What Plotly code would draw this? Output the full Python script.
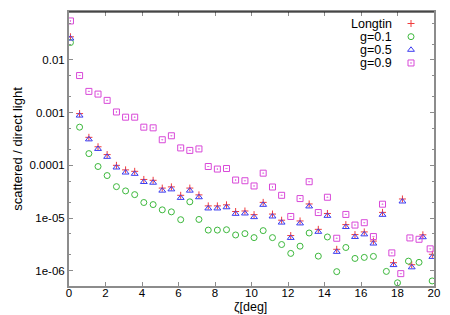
import plotly.graph_objects as go

# ---------------- data ----------------
series_names = ["Longtin", "g=0.1", "g=0.5", "g=0.9"]

x_common = [0.08, 0.58, 1.09, 1.59, 2.09, 2.60, 3.10, 3.60, 4.10, 4.61,
            5.11, 5.61, 6.12, 6.62, 7.12, 7.63, 8.13, 8.63, 9.13, 9.64,
            10.14, 10.64, 11.15, 11.65, 12.15, 12.66, 13.16, 13.66, 14.16, 14.67,
            15.17, 15.67, 16.18, 16.68]

x_tail_g05 = [17.18, 17.78, 18.27, 18.78, 19.39, 19.91]
x_tail_g01 = [17.39, 18.00, 18.60, 19.18, 19.90]
x_tail_g09 = [17.18, 17.69, 18.18, 18.68, 19.18, 19.79]

y_longtin = [0.0275, 9.6e-4, 3.4e-4, 2.25e-4, 1.6e-4, 1.0e-4, 8.2e-5, 7.7e-5, 5.4e-5, 5.2e-5,
             3.7e-5, 3.9e-5, 2.7e-5, 3.7e-5, 2.75e-5, 1.7e-5, 1.7e-5, 1.78e-5, 1.33e-5, 1.36e-5,
             1.16e-5, 1.98e-5, 1.19e-5, 9.1e-6, 4.65e-6, 8.8e-6, 1.85e-5, 6.1e-6, 1.22e-5, 2.55e-6,
             7.5e-6, 4.85e-6, 5.45e-6, 3.65e-6,
             1.28e-5, 1.42e-6, 2.3e-5, 1.3e-6, 4.8e-6, 2.05e-6]

y_g01 = [0.0214, 5.3e-4, 1.67e-4, 9.5e-5, 6.4e-5, 3.94e-5, 3.27e-5, 2.78e-5, 1.97e-5, 1.8e-5,
         1.43e-5, 1.31e-5, 9.3e-6, 2.03e-5, 9.4e-6, 5.9e-6, 5.9e-6, 6.0e-6, 4.77e-6, 5.06e-6,
         4.25e-6, 5.77e-6, 4.25e-6, 3.14e-6, 2.13e-6, 2.92e-6, 5.2e-6, 1.89e-6, 4.37e-6, 9.6e-7,
         2.76e-6, 1.71e-6, 1.79e-6, 1.87e-6,
         9.7e-7, 5.9e-7, 1.52e-6, 1.44e-6, 6.4e-7]

y_g05 = [0.0255, 8.8e-4, 3.11e-4, 2.05e-4, 1.45e-4, 9.1e-5, 7.3e-5, 6.9e-5, 4.83e-5, 4.68e-5,
         3.31e-5, 3.5e-5, 2.41e-5, 3.31e-5, 2.48e-5, 1.52e-5, 1.52e-5, 1.6e-5, 1.2e-5, 1.22e-5,
         1.04e-5, 1.78e-5, 1.07e-5, 8.2e-6, 4.19e-6, 7.9e-6, 1.66e-5, 5.47e-6, 1.1e-5, 2.28e-6,
         6.75e-6, 4.37e-6, 4.9e-6, 3.28e-6,
         1.15e-5, 1.28e-6, 2.06e-5, 1.16e-6, 4.32e-6, 1.83e-6]

y_g09 = [0.055, 5.06e-3, 2.53e-3, 2.25e-3, 1.71e-3, 1.03e-3, 8.2e-4, 8.2e-4, 5.3e-4, 5.15e-4,
         3.06e-4, 3.64e-4, 2.14e-4, 1.92e-4, 2.05e-4, 9.5e-5, 8.5e-5, 8.7e-5, 5.26e-5, 5.1e-5,
         4.06e-5, 7.1e-5, 3.88e-5, 2.7e-5, 1.07e-5, 2.34e-5, 4.89e-5, 1.27e-5, 2.48e-5, 4.13e-6,
         1.17e-5, 7.35e-6, 8.15e-6, 4.45e-6,
         1.83e-5, 2.18e-6, 8.8e-7, 4.19e-6, 3.95e-6, 2.6e-6]

x_ticks = [0, 2, 4, 6, 8, 10, 12, 14, 16, 18, 20]
y_tickvals = [1e-6, 1e-5, 1e-4, 1e-3, 1e-2]
y_ticktext = ["1e-06", "1e-05", "0.0001", "0.001", "0.01"]
x_title = "ζ[deg]"
y_title = "scattered / direct light"

# ---------------- styles ----------------
colors = ["#f03c3c", "#3cb83c", "#3c3cf0", "#d848d8"]
symbols = ["cross-thin", "circle-open", "triangle-up-open", "square-open-dot"]
sizes = [5, 6, 6, 6]

xs = [x_common + x_tail_g05, x_common + x_tail_g01, x_common + x_tail_g05, x_common + x_tail_g09]
ys = [y_longtin, y_g01, y_g05, y_g09]

fig = go.Figure()
for name, xv, yv, c, s, sz in zip(series_names, xs, ys, colors, symbols, sizes):
    fig.add_trace(go.Scatter(
        x=xv, y=yv, mode="markers", name=name, showlegend=False,
        marker=dict(symbol=s, size=sz, color=c, line=dict(color=c, width=1)),
        cliponaxis=True,
    ))

# legend keys on a hidden overlay axis (text left, symbol right like gnuplot)
leg_y = [0.958, 0.910, 0.862, 0.814]
for name, c, s, sz, ly in zip(series_names, colors, symbols, sizes, leg_y):
    fig.add_trace(go.Scatter(
        x=[0.937], y=[ly], mode="markers", showlegend=False, hoverinfo="skip",
        marker=dict(symbol=s, size=sz, color=c, line=dict(color=c, width=1)),
        xaxis="x2", yaxis="y2",
    ))
    fig.add_annotation(text=name, xref="paper", yref="paper", x=0.889, y=ly,
                       xanchor="right", yanchor="middle", showarrow=False,
                       font=dict(size=12.5, color="#000000"), borderpad=0)

axis_gray = "#8c8c8c"
font_family = "Liberation Sans, Arial, sans-serif"

fig.update_layout(
    width=450, height=315,
    margin=dict(l=69, r=13, t=10, b=29),
    paper_bgcolor="white", plot_bgcolor="white",
    font=dict(family=font_family, size=12, color="#000000"),
    showlegend=False,
    xaxis=dict(
        range=[0, 20], tickvals=x_ticks, ticks="inside", ticklen=4, tickcolor=axis_gray,
        tickwidth=1, showline=True, linecolor=axis_gray, linewidth=2, mirror="ticks",
        showgrid=False, zeroline=False, tickfont=dict(size=11.5), ticklabelstandoff=-5,
    ),
    yaxis=dict(
        type="log", range=[-6.29, -1.09], tickvals=y_tickvals, ticktext=y_ticktext,
        ticks="inside", ticklen=4, tickcolor=axis_gray, tickwidth=1,
        showline=True, linecolor=axis_gray, linewidth=2, mirror="ticks",
        showgrid=False, zeroline=False, tickfont=dict(size=11.5),
        minor=dict(ticks="inside", ticklen=2, tickcolor=axis_gray, dtick="D2", showgrid=False),
    ),
    xaxis2=dict(range=[0, 1], overlaying="x", visible=False, fixedrange=True),
    yaxis2=dict(range=[0, 1], overlaying="y", visible=False, fixedrange=True),
)

fig.add_shape(type="line", xref="paper", yref="paper", x0=0, x1=1, y0=1, y1=1,
              line=dict(color="#000000", width=1))

fig.add_annotation(text=y_title, xref="paper", yref="paper", x=-0.143, y=0.5,
                   textangle=-90, showarrow=False, xanchor="center", yanchor="middle",
                   font=dict(size=13))
fig.add_annotation(text=x_title, xref="paper", yref="paper", x=0.497, y=-0.078,
                   showarrow=False, xanchor="center", yanchor="middle",
                   font=dict(size=12.5), borderpad=0)

fig.write_html(
    "out.html",
    config={"displayModeBar": False},
    post_script="document.body.style.margin='0';document.body.style.overflow='hidden';",
)
